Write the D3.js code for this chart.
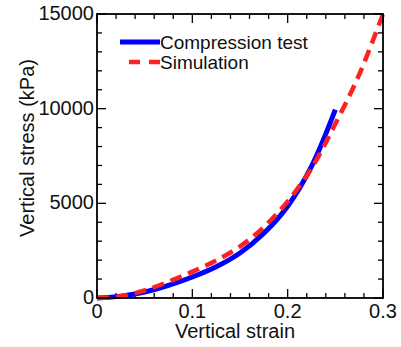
<!DOCTYPE html>
<html>
<head>
<meta charset="utf-8">
<script src="https://cdnjs.cloudflare.com/ajax/libs/d3/7.8.5/d3.min.js"></script>
<style>
body { margin: 0; background: #fff; }
text { font-family: "Liberation Sans", Arial, sans-serif; fill: #111; }
</style>
</head>
<body>
<div id="chart"></div>
<script>
//Data
var strainTest = [0, 0.025, 0.05, 0.075, 0.1, 0.125, 0.15, 0.175, 0.2, 0.225, 0.25];
var stressTest = [0, 100, 320, 670, 1110, 1650, 2380, 3420, 4850, 6950, 9950];

var strainSim = [0, 0.025, 0.05, 0.075, 0.1, 0.125, 0.15, 0.175, 0.2, 0.225, 0.25, 0.275, 0.3];
var stressSim = [0, 90, 400, 860, 1390, 1980, 2720, 3750, 5100, 6850, 9200, 11800, 15000];

var xTicks = [0, 0.1, 0.2, 0.3];
var yTicks = [0, 5000, 10000, 15000];
var seriesNames = ["Compression test", "Simulation"];

//Width and height
var w = 401;
var h = 347;
var margin = {top: 14, right: 18, bottom: 49, left: 97};

var svg = d3.select("#chart")
    .append("svg")
    .attr("width", w)
    .attr("height", h);

var x = d3.scaleLinear()
    .domain([0, 0.3])
    .range([margin.left, w - margin.right]);

var y = d3.scaleLinear()
    .domain([0, 15000])
    .range([h - margin.bottom, margin.top]);

var x0 = x.range()[0], x1 = x.range()[1];
var y0 = y.range()[0], y1 = y.range()[1];

//minor + major ticks, pointing inward on all four sides
var xMinor = d3.range(0, 0.3001, 0.02);
var yMinor = d3.range(0, 15001, 1000);
var isMajorX = function(v) { return xTicks.some(function(t) { return Math.abs(t - v) < 1e-6; }); };
var isMajorY = function(v) { return yTicks.indexOf(Math.round(v)) >= 0; };

var tickG = svg.append("g")
    .attr("stroke", "#000")
    .attr("stroke-width", 1.3);

xMinor.forEach(function(v) {
    var len = isMajorX(v) ? 9 : 5;
    tickG.append("line").attr("x1", x(v)).attr("x2", x(v)).attr("y1", y0).attr("y2", y0 - len);
    tickG.append("line").attr("x1", x(v)).attr("x2", x(v)).attr("y1", y1).attr("y2", y1 + len);
});
yMinor.forEach(function(v) {
    var len = isMajorY(v) ? 9 : 5;
    tickG.append("line").attr("x1", x0).attr("x2", x0 + len).attr("y1", y(v)).attr("y2", y(v));
    tickG.append("line").attr("x1", x1).attr("x2", x1 - len).attr("y1", y(v)).attr("y2", y(v));
});

//tick labels
svg.selectAll(".xlab")
    .data(xTicks)
    .enter()
    .append("text")
    .attr("x", function(d) { return x(d); })
    .attr("y", y0 + 20)
    .attr("text-anchor", "middle")
    .style("font-size", "20px")
    .text(function(d) { return d === 0 ? "0" : d3.format(".1f")(d); });

svg.selectAll(".ylab")
    .data(yTicks)
    .enter()
    .append("text")
    .attr("x", x0 - 3)
    .attr("y", function(d) { return y(d); })
    .attr("dy", "0.3em")
    .attr("text-anchor", "end")
    .style("font-size", "20px")
    .text(function(d) { return d; });

//axis titles
svg.append("text")
    .attr("x", 235)
    .attr("y", 338)
    .attr("text-anchor", "middle")
    .style("font-size", "20px")
    .text("Vertical strain");

svg.append("text")
    .attr("transform", "translate(34," + 148 + ") rotate(-90)")
    .attr("text-anchor", "middle")
    .style("font-size", "20px")
    .text("Vertical stress (kPa)");

//curves
var line = d3.line()
    .x(function(d) { return x(d[0]); })
    .y(function(d) { return y(d[1]); })
    .curve(d3.curveCatmullRom);

var simData = strainSim.map(function(s, i) { return [s, stressSim[i]]; });
var testData = strainTest.map(function(s, i) { return [s, stressTest[i]]; });

svg.append("path")
    .datum(testData)
    .attr("d", line)
    .attr("fill", "none")
    .attr("stroke", "#0000ff")
    .attr("stroke-width", 5);

svg.append("path")
    .datum(simData)
    .attr("d", line)
    .attr("fill", "none")
    .attr("stroke", "#ff2020")
    .attr("stroke-width", 4.5)
    .attr("stroke-dasharray", "12,7");

//box
svg.append("rect")
    .attr("x", x0)
    .attr("y", y1)
    .attr("width", x1 - x0)
    .attr("height", y0 - y1)
    .attr("fill", "none")
    .attr("stroke", "#000")
    .attr("stroke-width", 1.8);

//legend
var legend = svg.append("g");
legend.append("line")
    .attr("x1", 120).attr("x2", 160).attr("y1", 42).attr("y2", 42)
    .attr("stroke", "#0000ff").attr("stroke-width", 5);
legend.append("line")
    .attr("x1", 160).attr("x2", 128).attr("y1", 62).attr("y2", 62)
    .attr("stroke", "#ff2020").attr("stroke-width", 4.5)
    .attr("stroke-dasharray", "11,9");
legend.selectAll("text")
    .data(seriesNames)
    .enter()
    .append("text")
    .attr("x", 160)
    .attr("y", function(d, i) { return 49 + i * 20; })
    .style("font-size", "19px")
    .text(function(d) { return d; });
</script>
</body>
</html>
